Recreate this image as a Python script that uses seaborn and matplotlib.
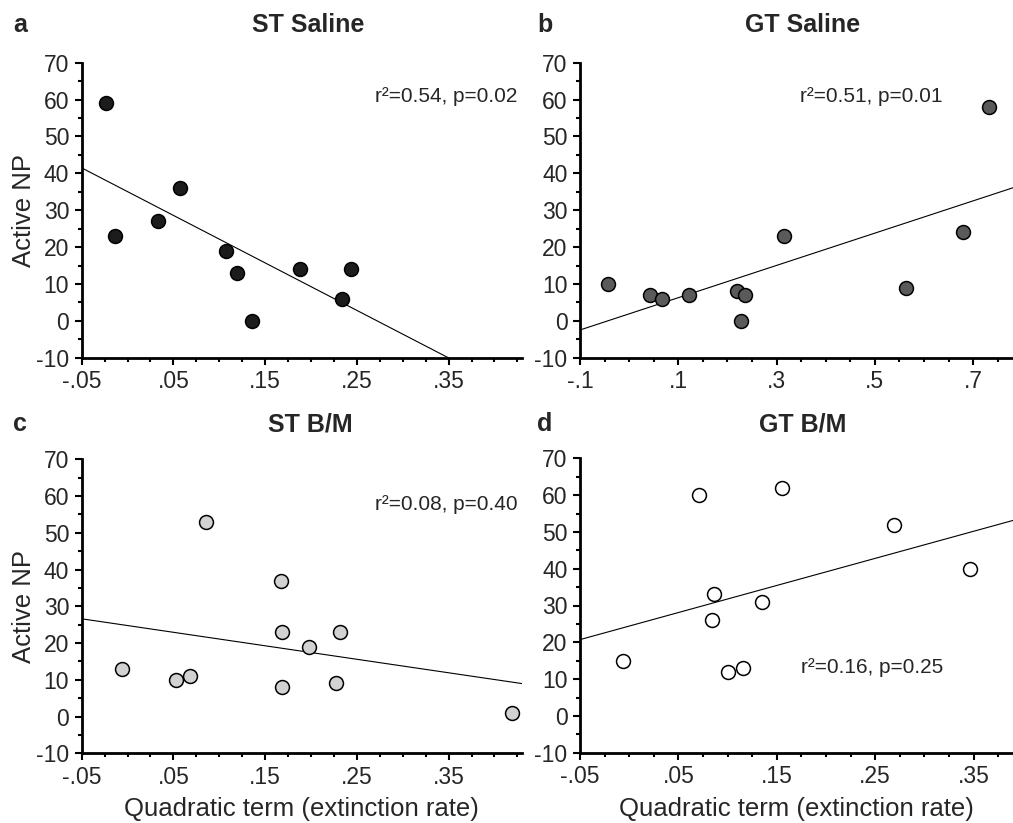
import matplotlib
matplotlib.use('Agg')
import matplotlib.pyplot as plt
import seaborn as sns
import pandas as pd
from matplotlib.ticker import MultipleLocator

# a - ST Saline
st_sal_x = [-0.0235, -0.0136, 0.0336, 0.0573, 0.1075, 0.119, 0.136, 0.188, 0.2336, 0.2435]
st_sal_y = [59, 23, 27, 36, 19, 13, 0, 14, 6, 14]
# b - GT Saline
gt_sal_x = [-0.0437, 0.0424, 0.0661, 0.1217, 0.2186, 0.2356, 0.2268, 0.3156, 0.5624, 0.6783, 0.7319]
gt_sal_y = [10, 7, 6, 7, 8, 7, 0, 23, 9, 24, 58]
# c - ST B/M
st_bm_x = [-0.0065, 0.0533, 0.0685, 0.0851, 0.1674, 0.1685, 0.1685, 0.1982, 0.2272, 0.2315, 0.4192]
st_bm_y = [13, 10, 11, 53, 37, 23, 8, 19, 9, 23, 1]
# d - GT B/M
gt_bm_x = [-0.0059, 0.071, 0.0846, 0.0863, 0.1002, 0.1161, 0.1347, 0.1551, 0.2693, 0.3459]
gt_bm_y = [15, 60, 26, 33, 12, 13, 31, 62, 52, 40]

ticks_05 = [-0.05, 0.05, 0.15, 0.25, 0.35]
labels_05 = ['-.05', '.05', '.15', '.25', '.35']
ticks_1 = [-0.1, 0.1, 0.3, 0.5, 0.7]
labels_1 = ['-.1', '.1', '.3', '.5', '.7']
y_ticks = [-10, 0, 10, 20, 30, 40, 50, 60, 70]

panels = [
    dict(letter='a', title='ST Saline', x=st_sal_x, y=st_sal_y, color='#1c1c1c',
         xlim=(-0.05, 0.43), ticks=ticks_05, labels=labels_05, minor=0.025,
         stat='r\u00b2=0.54, p=0.02', sx=0.989, sy=0.884),
    dict(letter='b', title='GT Saline', x=gt_sal_x, y=gt_sal_y, color='#5a5a5a',
         xlim=(-0.1, 0.781), ticks=ticks_1, labels=labels_1, minor=0.05,
         stat='r\u00b2=0.51, p=0.01', sx=0.838, sy=0.884),
    dict(letter='c', title='ST B/M', x=st_bm_x, y=st_bm_y, color='#d2d2d2',
         xlim=(-0.05, 0.43), ticks=ticks_05, labels=labels_05, minor=0.025,
         stat='r\u00b2=0.08, p=0.40', sx=0.989, sy=0.845),
    dict(letter='d', title='GT B/M', x=gt_bm_x, y=gt_bm_y, color='white',
         xlim=(-0.05, 0.39), ticks=ticks_05, labels=labels_05, minor=0.025,
         stat='r\u00b2=0.16, p=0.25', sx=0.838, sy=0.288),
]

sns.set_style('ticks')
plt.rcParams['font.family'] = ['Liberation Sans', 'DejaVu Sans']
plt.rcParams['axes.unicode_minus'] = False

fig = plt.figure(figsize=(10.13, 8.23), dpi=100)
W, H = 1013, 823
# axes boxes in pixels: left, top, right, bottom
boxes = [(81.7, 62.7, 522, 357.7), (580, 62.7, 1013, 357.7),
         (81.7, 459.3, 522, 753.3), (580, 458.3, 1013, 752.7)]
# letter left x, title centre x, baseline y (pixels)
heads = [(13, 308, 32), (537, 802.5, 32), (13, 310, 431), (537, 803, 431)]

for p, (l, t, r, b), (lx, tx, hy) in zip(panels, boxes, heads):
    ax = fig.add_axes([l / W, 1 - b / H, (r - l) / W, (b - t) / H])
    df = pd.DataFrame({'x': p['x'], 'y': p['y']})
    ax.set_xlim(*p['xlim'])
    ax.set_ylim(-10, 70)
    sns.regplot(data=df, x='x', y='y', ax=ax, ci=None, truncate=False,
                scatter_kws=dict(s=100, color=p['color'], edgecolor='black',
                                 linewidths=1.1, alpha=1, zorder=3, clip_on=False),
                line_kws=dict(color='black', lw=0.8, zorder=2))
    ax.set_xlim(*p['xlim'])
    ax.set_ylim(-10, 70)
    ax.set_xticks(p['ticks'])
    ax.set_xticklabels(p['labels'])
    ax.xaxis.set_minor_locator(MultipleLocator(p['minor']))
    ax.set_yticks(y_ticks)
    ax.yaxis.set_minor_locator(MultipleLocator(5))
    ax.tick_params(which='major', length=5, width=1.5, labelsize=16.5, color='black')
    ax.tick_params(axis='x', which='major', pad=4)
    ax.tick_params(axis='y', which='major', pad=4)
    ax.tick_params(which='minor', length=3, width=1.5, color='black')
    for s in ['left', 'bottom']:
        ax.spines[s].set_linewidth(2)
        ax.spines[s].set_color('black')
    sns.despine(ax=ax)
    ax.set_xlabel('')
    ax.set_ylabel('')
    if p['letter'] in ('a', 'c'):
        ax.set_ylabel('Active NP', fontsize=18.5, labelpad=0)
    if p['letter'] in ('c', 'd'):
        ax.set_xlabel('Quadratic term (extinction rate)', fontsize=18.5, labelpad=6)
    ax.text(p['sx'], p['sy'], p['stat'], transform=ax.transAxes, ha='right',
            va='center', fontsize=15)
    fig.text(lx / W, 1 - hy / H, p['letter'], fontsize=18, fontweight='bold',
             ha='left', va='baseline')
    fig.text(tx / W, 1 - hy / H, p['title'], fontsize=18, fontweight='bold',
             ha='center', va='baseline')

fig.savefig('out.png', dpi=100)
